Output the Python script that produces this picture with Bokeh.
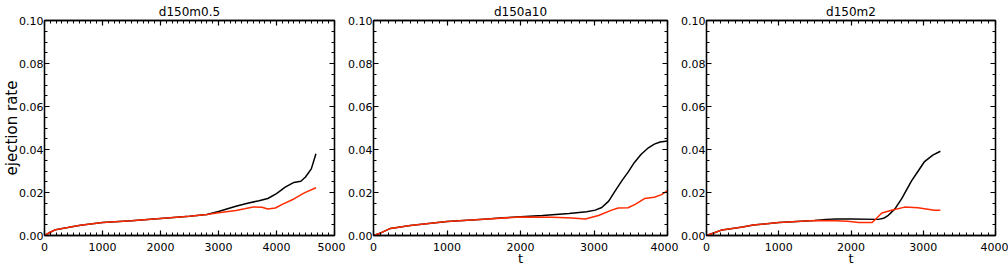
from bokeh.plotting import figure
from bokeh.layouts import row
from bokeh.models import (Range1d, SingleIntervalTicker, LinearAxis, PrintfTickFormatter)
from bokeh.embed import file_html
from bokeh.resources import INLINE

# ---------------- data ----------------
titles = ["d150m0.5", "d150a10", "d150m2"]
x_max = [5000, 4000, 4000]

t1_black = [0, 100, 190, 400, 620, 1000, 1500, 2000, 2500, 2800, 3000, 3300, 3500, 3700, 3850, 4000, 4150, 4300, 4420, 4500, 4600, 4680]
v1_black = [0, 0.0015, 0.0027, 0.0037, 0.0048, 0.0060, 0.0069, 0.0079, 0.0089, 0.0098, 0.0112, 0.0136, 0.0150, 0.0162, 0.0172, 0.0195, 0.0225, 0.0247, 0.0252, 0.0272, 0.0310, 0.0380]
t1_red = [0, 100, 190, 400, 620, 1000, 1500, 2000, 2500, 2800, 3000, 3300, 3450, 3600, 3750, 3850, 3980, 4100, 4300, 4480, 4680]
v1_red = [0, 0.0015, 0.0027, 0.0037, 0.0048, 0.0060, 0.0069, 0.0079, 0.0089, 0.0098, 0.0106, 0.0116, 0.0124, 0.0133, 0.0131, 0.0123, 0.0128, 0.0145, 0.0170, 0.0198, 0.0222]

t2_black = [0, 100, 230, 500, 1000, 1500, 1765, 2000, 2300, 2660, 2900, 3017, 3106, 3200, 3284, 3380, 3464, 3550, 3642, 3740, 3821, 3900, 4000]
v2_black = [0, 0.0012, 0.0033, 0.0047, 0.0065, 0.0076, 0.0082, 0.0087, 0.0093, 0.0102, 0.0110, 0.0118, 0.0130, 0.0160, 0.0205, 0.0255, 0.0295, 0.0340, 0.0378, 0.0408, 0.0425, 0.0435, 0.0440]
t2_red = [0, 100, 230, 500, 1000, 1500, 2000, 2435, 2700, 2882, 3061, 3240, 3330, 3464, 3560, 3687, 3821, 3920, 4000]
v2_red = [0, 0.0012, 0.0033, 0.0047, 0.0065, 0.0076, 0.0086, 0.0085, 0.0081, 0.0077, 0.0093, 0.0118, 0.0128, 0.0129, 0.0145, 0.0172, 0.0178, 0.0190, 0.0209]

t3_black = [0, 100, 215, 500, 647, 1000, 1500, 1650, 1800, 2000, 2380, 2450, 2517, 2608, 2700, 2836, 2930, 3018, 3132, 3237]
v3_black = [0, 0.0012, 0.0026, 0.0040, 0.0049, 0.0060, 0.0070, 0.0075, 0.0077, 0.0077, 0.0075, 0.0080, 0.0094, 0.0124, 0.0170, 0.0253, 0.0300, 0.0344, 0.0374, 0.0392]
t3_red = [0, 100, 215, 500, 647, 1000, 1500, 1787, 1950, 2107, 2289, 2330, 2426, 2562, 2744, 2927, 3155, 3237]
v3_red = [0, 0.0012, 0.0026, 0.0040, 0.0049, 0.0060, 0.0070, 0.0069, 0.0066, 0.0060, 0.0060, 0.0072, 0.0105, 0.0117, 0.0132, 0.0129, 0.0117, 0.0118]

series = [
    (t1_black, v1_black, t1_red, v1_red),
    (t2_black, v2_black, t2_red, v2_red),
    (t3_black, v3_black, t3_red, v3_red),
]

FONT = "DejaVu Sans"
RED = "#ff2a00"

# layout geometry: (min_border_left, frame width, min_border_right)
geom = [(44, 290, 11), (25, 297, 11), (25, 292, 13)]
H = 268
TOP = 18
BOTTOM = 30


def style_axis(ax, show_labels):
    ax.axis_line_color = "black"
    ax.axis_line_width = 1.3
    ax.major_tick_in = 5
    ax.major_tick_out = 0
    ax.minor_tick_in = 3
    ax.minor_tick_out = 0
    ax.major_tick_line_color = "black"
    ax.minor_tick_line_color = "black"
    ax.major_tick_line_width = 1.2
    ax.minor_tick_line_width = 1
    if show_labels:
        ax.major_label_text_font = FONT
        ax.major_label_text_font_size = "11px"
        ax.major_label_text_color = "black"
    else:
        ax.major_label_text_font_size = "1px"
        ax.major_label_text_color = None
        ax.major_label_standoff = 0


figs = []
for i in range(3):
    bl, fw, br = geom[i]
    xr = Range1d(0, x_max[i])
    yr = Range1d(0, 0.1)
    p = figure(width=bl + fw + br, height=H, x_range=xr, y_range=yr,
               output_backend="svg", toolbar_location=None,
               min_border_left=bl, min_border_right=br,
               min_border_top=TOP, min_border_bottom=BOTTOM,
               x_axis_type=None, y_axis_type=None)
    p.grid.visible = False
    p.outline_line_color = "black"
    p.outline_line_width = 1.3
    p.background_fill_color = "white"
    p.border_fill_color = "white"

    p.title.text = titles[i]
    p.title.align = "center"
    p.title.text_font = FONT
    p.title.text_font_size = "12px"
    p.title.text_font_style = "normal"
    p.title.text_color = "black"
    p.title.standoff = 4
    p.title.offset = 0

    xt = SingleIntervalTicker(interval=1000, num_minor_ticks=10)
    yt = SingleIntervalTicker(interval=0.02, num_minor_ticks=4)

    xb = LinearAxis(ticker=xt, formatter=PrintfTickFormatter(format="%d"))
    style_axis(xb, True)
    xb.major_label_standoff = 7
    if i > 0:
        xb.axis_label = "t"
        xb.axis_label_text_font = FONT
        xb.axis_label_text_font_size = "13px"
        xb.axis_label_text_font_style = "normal"
        xb.axis_label_text_color = "black"
        xb.axis_label_standoff = -3
    p.add_layout(xb, "below")

    yl = LinearAxis(ticker=yt, formatter=PrintfTickFormatter(format="%.2f"))
    style_axis(yl, True)
    yl.major_label_standoff = 1
    if i == 0:
        yl.axis_label = "ejection rate"
        yl.axis_label_text_font = FONT
        yl.axis_label_text_font_size = "15px"
        yl.axis_label_text_font_style = "normal"
        yl.axis_label_text_color = "black"
        yl.axis_label_standoff = -5
    p.add_layout(yl, "left")

    xtop = LinearAxis(ticker=SingleIntervalTicker(interval=1000, num_minor_ticks=10))
    style_axis(xtop, False)
    p.add_layout(xtop, "above")

    yr_ax = LinearAxis(ticker=SingleIntervalTicker(interval=0.02, num_minor_ticks=4))
    style_axis(yr_ax, False)
    p.add_layout(yr_ax, "right")

    tb, vb, tr, vr = series[i]
    p.line(tb, vb, line_color="black", line_width=1.5)
    p.line(tr, vr, line_color=RED, line_width=1.5)

    figs.append(p)

layout = row(*figs, spacing=0)
open("out.html", "w").write(file_html(layout, INLINE))
